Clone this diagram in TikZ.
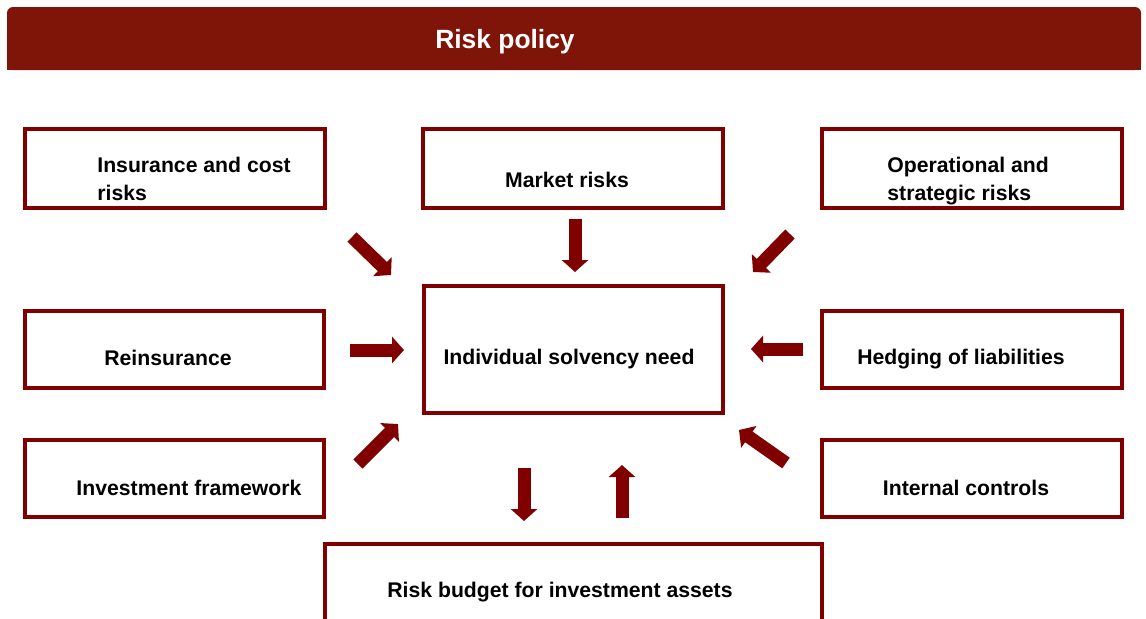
\documentclass[tikz,border=0pt]{standalone}
\usepackage{fontspec}
\setmainfont{Liberation Sans}
\usetikzlibrary{arrows.meta}
\definecolor{bar}{HTML}{7F1408}
\definecolor{frame}{HTML}{800000}

\begin{document}
\begin{tikzpicture}[x=0.5pt,y=-0.5pt,
	riskbox/.style={draw=frame, line width=2pt, minimum width=150pt, minimum height=39.5pt},
	lbl/.style={inner sep=0pt, font=\fontsize{10.6}{14}\selectfont\bfseries},
	blk/.style={draw=frame, line width=6.5pt, -{Triangle[width=13pt,length=6pt]}}]
	\useasboundingbox (0,0) rectangle (1146,618);
	% header
	\fill[bar, rounded corners=3pt] (7,7) rectangle (1141,70);
	\fill[bar] (7,40) rectangle (1141,70);
	\node[lbl, text=white, font=\fontsize{13.2}{16}\selectfont\bfseries] (title) at (505,42) {Risk policy};
	% boxes
	\node[riskbox] (ins) at (175,168.5) {};
	\node[riskbox] (mkt) at (573,168.5) {};
	\node[riskbox] (ops) at (972,168.5) {};
	\node[riskbox, minimum width=149.5pt, minimum height=38.5pt] (rei) at (174.5,349.5) {};
	\node[riskbox, minimum width=149.5pt, minimum height=63.5pt] (ctr) at (573.5,349.5) {};
	\node[riskbox, minimum height=38.5pt] (hdg) at (972,349.5) {};
	\node[riskbox, minimum width=149.5pt, minimum height=38.5pt] (inv) at (174.5,478.5) {};
	\node[riskbox, minimum height=38.5pt] (ict) at (972,478.5) {};
	\node[riskbox, minimum width=248.5pt, minimum height=58pt] (bud) at (573.5,602) {};
	% texts
	\node[lbl, anchor=west, align=left] (ins-t) at (97,179) {Insurance and cost\\risks};
	\node[lbl] (mkt-t) at (567,180) {Market risks};
	\node[lbl, anchor=west, align=left] (ops-t) at (887,181) {Operational and\\strategic risks};
	\node[lbl] (rei-t) at (168,358) {Reinsurance};
	\node[lbl] (ctr-t) at (569,359) {Individual solvency need};
	\node[lbl] (hdg-t) at (961,359) {Hedging of liabilities};
	\node[lbl] (inv-t) at (189,488) {Investment framework};
	\node[lbl] (ict-t) at (966,488) {Internal controls};
	\node[lbl] (bud-t) at (560,592) {Risk budget for investment assets};
	% arrow ends
	\coordinate (ins-a) at (352,237); \coordinate (ins-b) at (391,275);
	\coordinate (mkt-a) at (575,219); \coordinate (mkt-b) at (575,272);
	\coordinate (ops-a) at (790,234); \coordinate (ops-b) at (753,272);
	\coordinate (rei-a) at (350,350); \coordinate (rei-b) at (404,350);
	\coordinate (hdg-a) at (803,349); \coordinate (hdg-b) at (751,349);
	\coordinate (inv-a) at (358,464); \coordinate (inv-b) at (398,424);
	\coordinate (ict-a) at (786,463); \coordinate (ict-b) at (739,430);
	\coordinate (dn-a) at (524,468); \coordinate (dn-b) at (524,521);
	\coordinate (up-a) at (622,518); \coordinate (up-b) at (622,465);
	\foreach \n in {ins, mkt, ops, rei, hdg, inv, ict, dn, up}
	\draw[blk] (\n-a) -- (\n-b);
\end{tikzpicture}
\end{document}
